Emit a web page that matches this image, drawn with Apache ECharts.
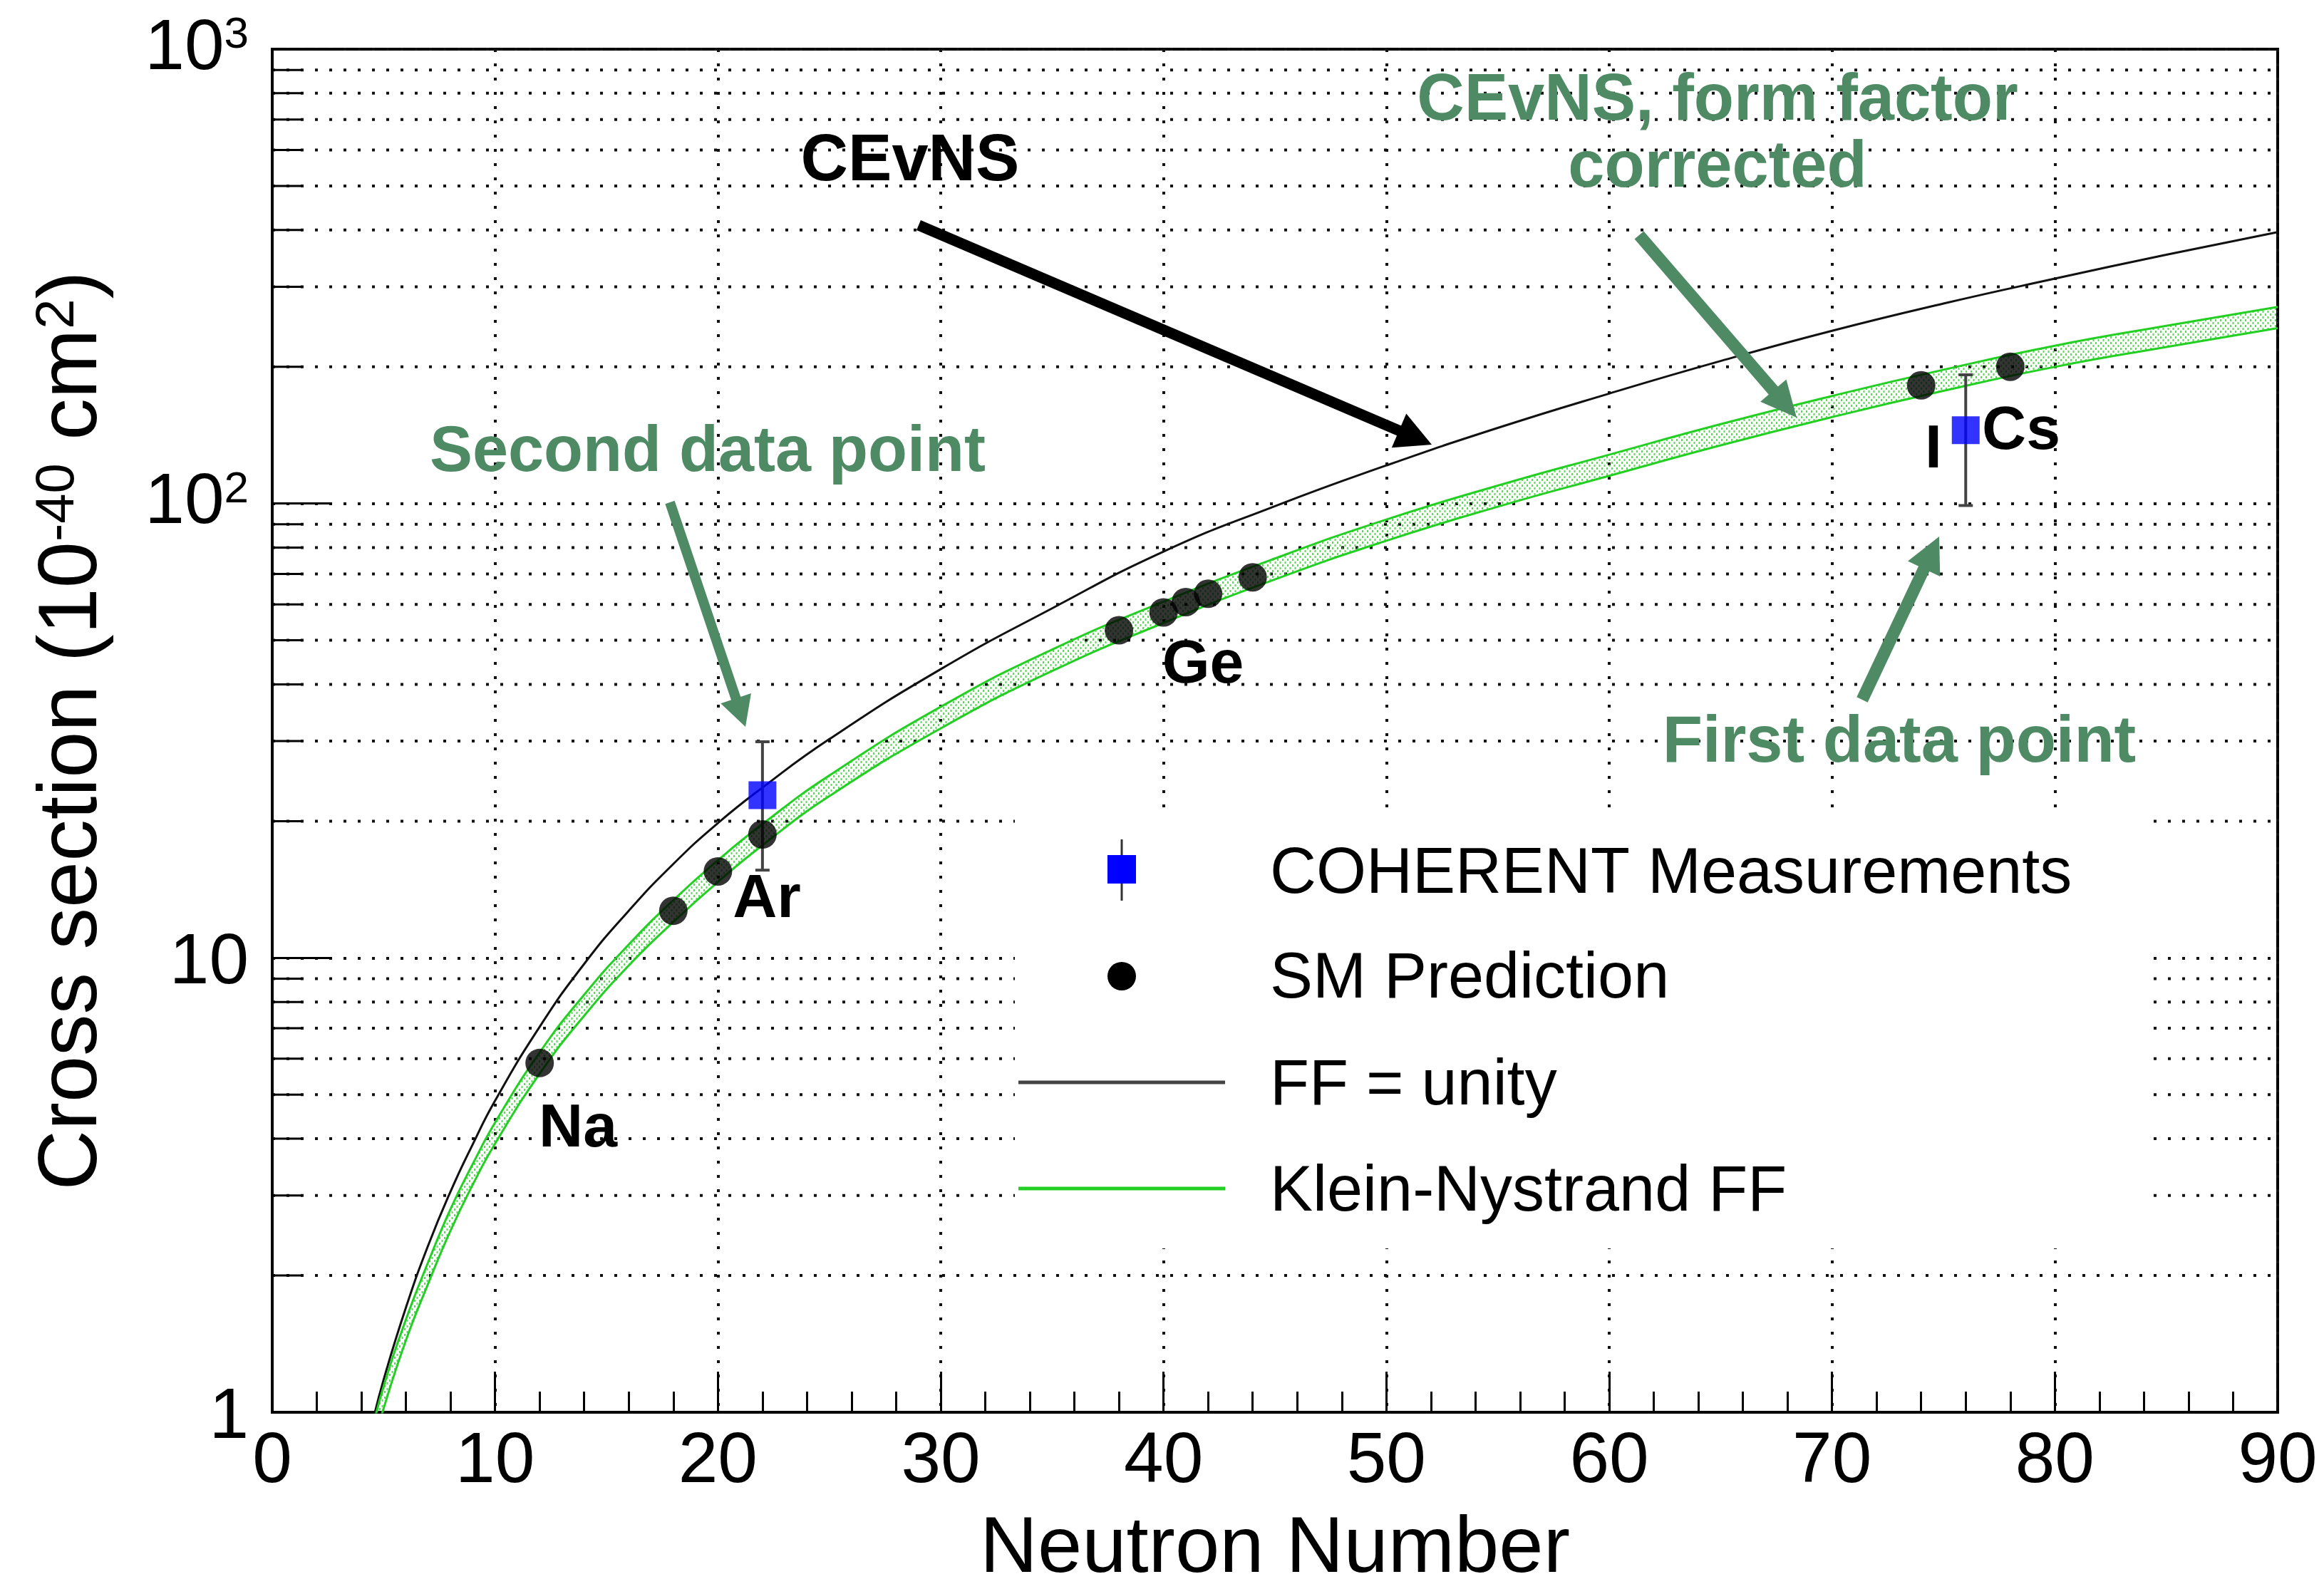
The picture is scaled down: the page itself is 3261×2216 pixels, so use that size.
<!DOCTYPE html>
<html>
<head>
<meta charset="utf-8">
<script src="https://cdn.jsdelivr.net/npm/echarts@6/dist/echarts.min.js"></script>
<style>
  html, body { margin: 0; padding: 0; background: #ffffff; }
  #chart { width: 3261px; height: 2216px; }
</style>
</head>
<body>
<div id="chart"></div>
<script>
// Neutron numbers at which the two theory curves are sampled
const neutronN = [4.5, 5, 6, 7, 8, 9, 10, 12, 14, 16, 18, 20, 22, 25, 30, 35, 40, 45, 50, 55, 60, 65, 70, 75, 80, 85, 90];
// Cross section with FF = unity (10^-40 cm^2)
const ffUnity = [0.95, 1.18, 1.70, 2.33, 3.06, 3.89, 4.85, 7.05, 9.70, 12.7, 16.1, 19.8, 23.7, 30.3, 43.2, 58.8, 78.4, 98.7, 121.3, 146.7, 174.6, 205.9, 240, 275.5, 312.6, 352.9, 395.6];
// Klein-Nystrand form-factor band, upper and lower edges
const kleinUpper = [0.92, 1.14, 1.60, 2.14, 2.80, 3.52, 4.34, 6.19, 8.30, 10.7, 13.4, 16.4, 19.7, 25.2, 35.7, 47.7, 60.8, 75.7, 92.2, 109.5, 128.1, 149.5, 172.5, 197.0, 222.5, 246.1, 270.8];
const kleinLower = [0.83, 1.02, 1.44, 1.92, 2.51, 3.17, 3.90, 5.56, 7.46, 9.62, 12.0, 14.7, 17.7, 22.7, 32.0, 42.8, 54.6, 68.1, 82.8, 98.4, 115.1, 134.3, 155.0, 177.0, 199.9, 221.1, 243.3];

// SM predictions for individual isotopes (Na, Ar, Ge, I, Cs)
const smN = [12, 18, 20, 22, 38, 40, 41, 42, 44, 74, 78];
const smValues = [5.87, 12.7, 15.5, 18.7, 52.6, 57.6, 60.7, 63.3, 68.8, 182, 200];

// COHERENT measurements (Ar, CsI) with their error bars
const measN = [22, 76];
const measValue = [22.8, 145];
const measLow = [15.6, 99];
const measHigh = [29.9, 192];

// Minor decade values that get a dotted grid line and a short tick
const yMinorValues = [2, 3, 4, 5, 6, 7, 8, 9, 20, 30, 40, 50, 60, 70, 80, 90, 200, 300, 400, 500, 600, 700, 800, 900];

// Element tags placed next to the isotope points
const elementLabels = [
  { text: 'Na', x: 811, y: 1585 },
  { text: 'Ar', x: 1076, y: 1263 },
  { text: 'Ge', x: 1688, y: 934 },
  { text: 'I', x: 2713, y: 632 },
  { text: 'Cs', x: 2836, y: 606 }
];

const FONT = '"Liberation Sans", Arial, Helvetica, sans-serif';
const NOTE_GREEN = '#4e8a63';
const CURVE_GREEN = '#22cf22';

const chart = echarts.init(document.getElementById('chart'), null, { renderer: 'canvas' });

// Dotted fill used inside the form-factor band
function makeHatch() {
  const c = document.createElement('canvas');
  c.width = 7; c.height = 8;
  const g = c.getContext('2d');
  g.fillStyle = 'rgba(40, 200, 40, 0.75)';
  g.fillRect(0, 0, 2, 3);
  g.fillRect(3.5, 4, 2, 3);
  return c;
}
const hatch = makeHatch();

function pairs(xs, ys) { return xs.map((x, i) => [x, ys[i]]); }

function arrow(x1, y1, x2, y2, shaft, headLen, headW, color) {
  const dx = x2 - x1, dy = y2 - y1, L = Math.hypot(dx, dy);
  const ux = dx / L, uy = dy / L, px = -uy, py = ux;
  const bx = x2 - ux * headLen, by = y2 - uy * headLen;
  return [
    { type: 'line', z: 100, shape: { x1: x1, y1: y1, x2: bx + ux * 3, y2: by + uy * 3 },
      style: { stroke: color, lineWidth: shaft } },
    { type: 'polygon', z: 100,
      shape: { points: [[x2, y2], [bx + px * headW / 2, by + py * headW / 2], [bx - px * headW / 2, by - py * headW / 2]] },
      style: { fill: color } }
  ];
}

function txt(text, x, y, size, color, weight, align) {
  return { type: 'text', z: 100, x: x, y: y,
    style: { text: text, fill: color, font: (weight || 'normal') + ' ' + size + 'px ' + FONT,
      align: align || 'center', verticalAlign: 'middle' } };
}

const graphics = [];
// annotations
graphics.push(txt('CEvNS', 1277, 228, 92, '#000', 'bold'));
graphics.push(...arrow(1289, 316, 2009, 624, 15, 50, 52, '#000'));
graphics.push(txt('CEvNS, form factor', 2410, 143, 92, NOTE_GREEN, 'bold'));
graphics.push(txt('corrected', 2410, 237, 92, NOTE_GREEN, 'bold'));
graphics.push(...arrow(2300, 330, 2521, 586, 17, 50, 48, NOTE_GREEN));
graphics.push(txt('Second data point', 993, 636, 90, NOTE_GREEN, 'bold'));
graphics.push(...arrow(940, 705, 1046, 1020, 14, 42, 45, NOTE_GREEN));
graphics.push(txt('First data point', 2665, 1044, 92, NOTE_GREEN, 'bold'));
graphics.push(...arrow(2613, 982, 2721, 753, 17, 50, 50, NOTE_GREEN));
elementLabels.forEach(l => graphics.push(txt(l.text, l.x, l.y, 86, '#000', 'bold')));

// legend: white box without border, then its entries
graphics.push({ type: 'rect', z: 99, shape: { x: 1424, y: 1140, width: 1592, height: 612 }, style: { fill: '#ffffff' } });
graphics.push({ type: 'line', z: 100, shape: { x1: 1574, y1: 1178, x2: 1574, y2: 1264 }, style: { stroke: '#333', lineWidth: 3 } });
graphics.push({ type: 'rect', z: 101, shape: { x: 1554, y: 1200, width: 40, height: 40 }, style: { fill: '#0000ff' } });
graphics.push(txt('COHERENT Measurements', 1782, 1228, 90, '#000', 'normal', 'left'));
graphics.push({ type: 'circle', z: 100, shape: { cx: 1574, cy: 1370, r: 20 }, style: { fill: '#000' } });
graphics.push(txt('SM Prediction', 1782, 1375, 90, '#000', 'normal', 'left'));
graphics.push({ type: 'line', z: 100, shape: { x1: 1429, y1: 1519, x2: 1719, y2: 1519 }, style: { stroke: '#444', lineWidth: 5 } });
graphics.push(txt('FF = unity', 1782, 1525, 90, '#000', 'normal', 'left'));
graphics.push({ type: 'line', z: 100, shape: { x1: 1429, y1: 1668, x2: 1719, y2: 1668 }, style: { stroke: CURVE_GREEN, lineWidth: 5 } });
graphics.push(txt('Klein-Nystrand FF', 1782, 1674, 90, '#000', 'normal', 'left'));

const dotted = { type: [4, 16], color: '#111', width: 4 };

const option = {
  animation: false,
  backgroundColor: '#ffffff',
  grid: {
    left: 382, top: 69, width: 2814, height: 1913,
    outerBoundsMode: 'none', containLabel: false,
    show: true, borderColor: '#000', borderWidth: 4
  },
  xAxis: {
    type: 'value', min: 0, max: 90, interval: 10,
    name: 'Neutron Number', nameLocation: 'middle', nameGap: 137,
    nameTextStyle: { fontSize: 112, lineHeight: 112, fontFamily: FONT, color: '#000' },
    axisLine: { lineStyle: { color: '#000', width: 4 } },
    axisTick: { inside: true, length: 57, lineStyle: { color: '#000', width: 3 } },
    minorTick: { show: true, splitNumber: 5, length: 29, lineStyle: { color: '#000', width: 3 } },
    splitLine: { show: true, lineStyle: dotted },
    axisLabel: { fontSize: 100, lineHeight: 100, margin: 20, color: '#000', fontFamily: FONT }
  },
  yAxis: {
    type: 'log', logBase: 10, min: 1, max: 1000,
    name: '{m|Cross section (10}{s|-40}{m| cm}{s|2}{m|)}',
    nameLocation: 'middle', nameGap: 166,
    nameTextStyle: {
      color: '#000', fontFamily: FONT,
      rich: {
        m: { fontSize: 117, lineHeight: 117, verticalAlign: 'bottom', fontFamily: FONT, color: '#000' },
        s: { fontSize: 76, lineHeight: 76, verticalAlign: 'top', padding: [0, 0, 72, 0], fontFamily: FONT, color: '#000' }
      }
    },
    axisLine: { lineStyle: { color: '#000', width: 4 } },
    axisTick: { inside: true, length: 84, lineStyle: { color: '#000', width: 3 } },
    splitLine: { show: true, lineStyle: dotted },
    axisLabel: {
      margin: 33, color: '#000', fontFamily: FONT,
      formatter: function (v) {
        if (v === 1) return '{c|1}';
        if (v === 10) return '{c|10}';
        return '{b|10}{s|' + Math.round(Math.log10(v)) + '}';
      },
      rich: {
        b: { fontSize: 100, lineHeight: 100, verticalAlign: 'bottom', fontFamily: FONT, color: '#000' },
        c: { fontSize: 100, lineHeight: 100, padding: [16, 0, 0, 0], fontFamily: FONT, color: '#000' },
        s: { fontSize: 62, lineHeight: 62, verticalAlign: 'top', padding: [0, 0, 50, 0], fontFamily: FONT, color: '#000' }
      }
    }
  },
  graphic: graphics,
  series: [
    {
      name: 'minor grid', type: 'custom', silent: true, z: 1,
      data: yMinorValues.map(v => [0, v]),
      renderItem: function (params, api) {
        const v = api.value(1);
        const a = api.coord([0, v]);
        const b = api.coord([90, v]);
        return {
          type: 'group',
          children: [
            { type: 'line', shape: { x1: a[0], y1: a[1], x2: b[0], y2: b[1] },
              style: { stroke: '#111', lineWidth: 4, lineDash: [4, 16] } },
            { type: 'line', shape: { x1: a[0], y1: a[1], x2: a[0] + 42, y2: a[1] },
              style: { stroke: '#000', lineWidth: 3 } }
          ]
        };
      }
    },
    {
      name: 'band fill', type: 'custom', silent: true, clip: true, z: 2,
      data: [[neutronN[0], kleinLower[0]]],
      renderItem: function (params, api) {
        const pts = [];
        for (let i = 0; i < neutronN.length; i++) pts.push(api.coord([neutronN[i], kleinUpper[i]]));
        for (let i = neutronN.length - 1; i >= 0; i--) pts.push(api.coord([neutronN[i], kleinLower[i]]));
        return { type: 'polygon', shape: { points: pts },
          style: { fill: { image: hatch, repeat: 'repeat' } } };
      }
    },
    {
      name: 'FF = unity', type: 'line', data: pairs(neutronN, ffUnity),
      showSymbol: false, smooth: true, clip: true, z: 3,
      lineStyle: { color: '#111', width: 3 }
    },
    {
      name: 'Klein-Nystrand FF', type: 'line', data: pairs(neutronN, kleinUpper),
      showSymbol: false, smooth: true, clip: true, z: 3,
      lineStyle: { color: CURVE_GREEN, width: 3 }
    },
    {
      name: 'Klein-Nystrand FF low', type: 'line', data: pairs(neutronN, kleinLower),
      showSymbol: false, smooth: true, clip: true, z: 3,
      lineStyle: { color: CURVE_GREEN, width: 3 }
    },
    {
      name: 'error bars', type: 'custom', z: 4,
      data: measN.map((n, i) => [n, measLow[i], measHigh[i]]),
      renderItem: function (params, api) {
        const lo = api.coord([api.value(0), api.value(1)]);
        const hi = api.coord([api.value(0), api.value(2)]);
        const st = { stroke: '#444', lineWidth: 4 };
        return {
          type: 'group',
          children: [
            { type: 'line', shape: { x1: lo[0], y1: lo[1], x2: hi[0], y2: hi[1] }, style: st },
            { type: 'line', shape: { x1: lo[0] - 10, y1: lo[1], x2: lo[0] + 10, y2: lo[1] }, style: st },
            { type: 'line', shape: { x1: hi[0] - 10, y1: hi[1], x2: hi[0] + 10, y2: hi[1] }, style: st }
          ]
        };
      }
    },
    {
      name: 'SM Prediction', type: 'scatter', z: 5,
      data: pairs(smN, smValues),
      symbol: 'circle', symbolSize: 40,
      itemStyle: { color: '#000' }
    },
    {
      name: 'COHERENT Measurements', type: 'scatter', z: 6,
      data: pairs(measN, measValue),
      symbol: 'rect', symbolSize: 39,
      itemStyle: { color: '#0000ff' }
    }
  ]
};

chart.setOption(option);
</script>
</body>
</html>
